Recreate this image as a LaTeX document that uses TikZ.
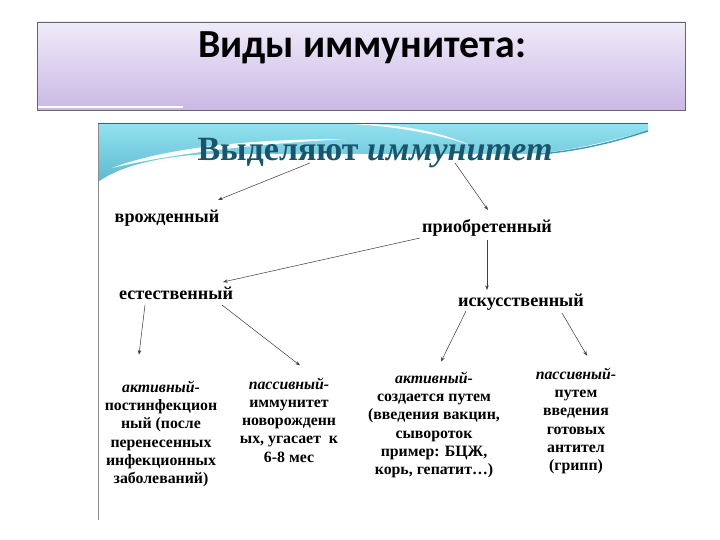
\documentclass[tikz,border=0pt]{standalone}
\usepackage{fontspec}
\setmainfont{Liberation Serif}
\newfontfamily\calfont{Carlito}
\usetikzlibrary{arrows.meta,calc}
\definecolor{titletop}{HTML}{EFEBF9}
\definecolor{titlebot}{HTML}{CAB8E5}
\definecolor{wavelight}{HTML}{93E2F0}
\definecolor{wavedark}{HTML}{5DB9CF}
\definecolor{waveline}{HTML}{3C9BB3}
\definecolor{headteal}{HTML}{1A566B}

\begin{document}
\begin{tikzpicture}[
  x=0.03cm,y=-0.03cm,
  every node/.style={inner sep=0pt},
  lvl/.style={font=\bfseries\fontsize{15.5}{18}\selectfont,anchor=base},
  desc/.style={font=\bfseries\fontsize{13.5}{15.6}\selectfont,align=center},
  arr/.style={-{Stealth[length=4pt,width=3pt]},draw=black!75,line width=0.45pt}
]
\useasboundingbox (0,0) rectangle (720,540);

% title box
\shade[top color=titletop,bottom color=titlebot] (37,22) rectangle (685,110);
\draw[black!60] (37,22) rectangle (685,110);
\draw[white,line width=1pt] (38,107) -- (183,107);
\node[font=\calfont\bfseries\fontsize{34}{36}\selectfont,anchor=base] (title) at (362,58) {Виды иммунитета:};

% picture panel with the wave
\fill[white] (98,123) rectangle (648,520);
\shade[top color=wavelight,bottom color=wavedark]
  (98,123) -- (648,123) -- (648,131) .. controls (600,143) and (565,153) .. (520,154)
  -- (210,154) .. controls (160,156) and (120,166) .. (98,182) -- cycle;
\fill[white] (112,168) .. controls (170,146) and (260,139) .. (345,139)
  .. controls (260,144) and (180,152) .. (112,168);
\fill[white] (330,123) .. controls (390,125) and (430,132) .. (470,145)
  .. controls (430,128) and (390,123) .. (330,123);
\draw[waveline,line width=1.2pt] (540,154) .. controls (585,150) and (620,140) .. (648,131);
\draw[black!45] (98,123) -- (98,520);
\draw[waveline!70!black] (98,123) -- (648,123);

\node[font=\bfseries\fontsize{29}{32}\selectfont,text=headteal,anchor=base] (head) at (375,161)
  {Выделяют \textit{иммунитет}};

\node[lvl] (vrozh) at (167,223) {врожденный};
\node[lvl] (priob) at (487,233) {приобретенный};
\node[lvl] (estes) at (176,300) {естественный};
\node[lvl] (iskus) at (521,307) {искусственный};

\node[desc] (akt1) at (161,434) {\textit{активный-}\\постинфекцион\\ный (после\\перенесенных\\инфекционных\\заболеваний)};
\node[desc] (pas1) at (289,420) {\textit{пассивный-}\\иммунитет\\новорожденн\\ых, угасает~~к\\6-8 мес};
\node[desc] (akt2) at (434,425) {\textit{активный-}\\создается путем\\(введения вакцин,\\сывороток\\пример: БЦЖ,\\корь, гепатит…)};
\node[desc] (pas2) at (576,421) {\textit{пассивный-}\\путем\\введения\\готовых\\антител\\(грипп)};

\draw[arr] ($(head.base)+(-65,2)$) -- ($(vrozh.base)+(51,-23)$);
\draw[arr] ($(head.base)+(80,2)$) -- ($(priob.base)+(1,-23)$);
\draw[arr] ($(priob.base)+(-67,5)$) -- ($(estes.base)+(47,-18)$);
\draw[arr] ($(priob.base)+(0,7)$) -- ($(iskus.base)+(-34,-17)$);
\draw[arr] ($(estes.base)+(-31,5)$) -- ($(akt1.north)+(-22,-26)$);
\draw[arr] ($(estes.base)+(46,5)$) -- ($(pas1.north)+(11,-12)$);
\draw[arr] ($(iskus.base)+(-55,4)$) -- ($(akt2.north)+(7,-10)$);
\draw[arr] ($(iskus.base)+(41,6)$) -- ($(pas2.north)+(11,-12)$);
\end{tikzpicture}
\end{document}
